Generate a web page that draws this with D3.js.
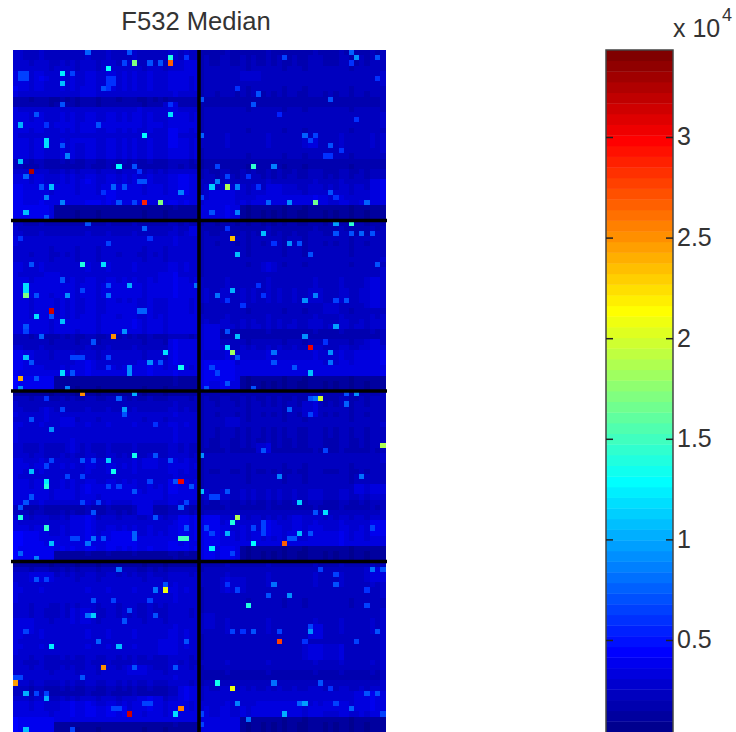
<!DOCTYPE html>
<html>
<head>
<meta charset="utf-8">
<script src="https://cdn.jsdelivr.net/npm/d3@7"></script>
<style>
html, body { margin: 0; padding: 0; background: #fff; overflow: hidden; }
text { font-family: "Liberation Sans", Arial, sans-serif; fill: #333; }
</style>
</head>
<body>
<svg id="chart" width="736" height="732"></svg>
<script>
var nRows = 132, nCols = 72;
var blockRows = [33, 66, 99];
var blockCols = [36];
var cbTicks = [5000, 10000, 15000, 20000, 25000, 30000];
var cMin = 427, cMax = 34324;

// background level of each row, left half and right half of the slide
var leftRows = [2400,2400,2600,2700,3000,3000,3000,3000,2800,1500,1600,2800,3000,3000,3200,3000,2800,3000,3000,3000,3000,2000,1900,2600,3000,3000,3200,3200,3300,3500,1200,1100,1100,
  1900,2300,2400,2800,2800,2700,2600,2700,2900,2900,2800,3000,3200,3200,3200,3000,3000,3000,3100,3200,3200,3200,2000,2200,2400,2700,2700,2800,3000,3400,1200,1200,1100,1100,
  2000,2300,2400,2800,2700,2900,2800,2800,2800,2400,2400,2500,2900,3000,2900,2800,3000,3100,3200,3200,2900,1900,2000,2600,2800,3000,3100,3300,3500,3600,1300,1200,1100,
  2100,2500,2700,2800,2900,2800,2800,2600,2500,2500,2700,2800,2900,2900,2800,2900,2800,2500,2400,2500,2700,2800,2500,2000,1900,2600,3000,3000,3200,3300,1200,1100,1100];
var rightRows = [1900,2000,2000,2200,2300,2300,2300,2200,2100,1800,1800,2200,2300,2300,2300,2200,2400,2400,2400,2300,2200,1700,1600,2000,2100,2400,2600,2700,2900,3000,1100,1000,1000,
  1500,1900,2000,2200,2100,2200,2200,2300,2200,2300,2300,2400,2400,2500,2500,2500,2300,2200,2400,2500,2600,1900,1800,2200,2500,2900,2900,3100,3300,3400,1100,1000,1000,
  1800,2000,2100,2200,2100,2200,2300,2100,2100,2000,2000,1900,2300,2300,2200,2000,2200,2200,2300,2500,2500,2000,1900,2300,2600,2900,3000,3100,3100,3300,1100,1000,1000,
  1900,2300,2400,2400,2400,2300,2300,2200,2200,2300,2300,2400,2400,2400,2300,2300,2300,2300,2300,2400,2300,1900,1800,2300,2500,2800,2800,2900,3000,3000,1100,1000,1000];

// how much each column sits above or below its row level
var colOffsets = [300,200,100,-100,100,200,0,-200,-100,100,-100,100,-200,0,200,100,-200,0,200,100,-100,100,0,200,-100,-200,100,-100,0,-200,200,300,100,200,0,100,
  -300,100,0,-100,100,200,0,-100,100,-200,100,0,-100,200,-100,100,-200,0,100,-100,-200,100,200,100,-100,0,-100,200,100,-200,0,100,-100,200,100,300];

// brighter lumps of the background: row from, row to, col from, col to, level
var patches = [
  [30,32,0,7,3800],[30,32,36,43,3500],[63,65,0,7,3900],[63,65,36,43,3600],[96,98,0,7,3900],[96,98,36,43,3700],[129,131,0,7,3900],[129,131,36,43,3400],
  [5,5,5,6,3500],[7,8,13,15,3400],[7,7,0,2,3400],[10,11,29,31,3000],[15,18,30,31,3500],[17,17,12,13,3400],[24,27,32,34,3600],[29,29,15,16,3900],[25,25,13,15,3500],[26,29,0,1,3800],[11,13,24,25,3200],[27,28,17,19,3600],[14,15,13,15,3400],[2,4,33,35,3300],
  [27,29,38,42,3400],[28,29,53,60,3500],[26,27,49,52,3200],[4,5,44,47,2800],[25,28,69,71,3400],[17,18,56,58,3100],[28,29,47,52,3400],
  [34,35,34,35,3200],[43,46,6,8,3400],[43,46,28,31,3400],[52,53,8,12,3500],[48,50,6,7,3300],[49,50,20,22,3500],[45,47,28,33,3400],[56,60,30,35,3400],[60,62,24,28,3600],[60,62,12,15,3500],[52,53,22,24,3500],[58,61,0,3,3500],
  [53,57,36,39,3300],[60,63,36,42,3800],[58,60,66,71,3400],[60,62,44,48,3500],[60,61,50,56,3400],[44,49,68,70,3100],[41,42,48,50,2900],[49,50,60,62,3000],[56,57,68,70,3000],
  [71,72,9,11,3300],[86,89,24,26,3300],[90,95,11,15,3500],[93,95,0,4,4000],[83,85,30,32,3500],[90,94,32,35,3600],[93,95,19,23,3800],[75,77,10,12,3000],[69,71,6,7,3200],[84,85,14,17,3500],[79,80,25,27,3300],
  [91,93,69,71,3600],[90,95,36,39,3900],[91,93,48,50,3500],[93,95,59,63,3500],[71,72,41,43,2800],[68,70,56,58,2900],[84,85,66,71,3100],[76,77,47,49,2900],[90,92,54,56,3200],
  [101,102,3,7,3400],[110,112,0,3,3300],[123,125,32,35,3500],[126,128,10,14,3600],[125,127,24,28,3600],[108,110,11,14,3200],[114,116,28,31,3300],[119,120,22,25,3300],[127,128,15,21,3600],
  [124,127,66,70,3500],[100,102,68,71,3100],[126,128,47,55,3300],[115,117,56,63,3000],[111,113,57,59,3000],[102,104,40,44,2900],[109,111,36,38,2800],[126,127,60,64,3200]
];

// cells that stand out from the background: row, col, value
var hotCells = [
  [0,14,7800],[0,22,6800],[1,30,14000],[2,30,26500],[2,23,17000],[3,18,13000],[2,26,6800],[2,28,6800],[2,21,6300],[1,33,5800],
  [4,9,12500],[4,11,6300],[6,9,11000],[4,1,6300],[5,1,6300],[4,2,6300],[5,2,6300],[5,18,5800],[6,18,5800],[7,18,5800],[5,19,5800],[6,19,5800],[7,17,6800],[10,9,7300],[10,30,5800],
  [12,30,12000],[12,4,6800],[14,1,10000],[14,16,7300],[14,6,5800],[16,25,13000],[17,6,12000],[18,6,12000],[18,9,6800],[20,10,8500],[21,1,11000],[22,20,13000],[22,23,6800],[23,3,32500],[24,2,7800],[23,24,5800],
  [25,24,7300],[25,25,7300],[26,7,10500],[26,19,7800],[26,21,6800],[26,5,6800],[27,32,8500],[27,17,5800],[28,6,8500],[29,25,28500],[29,28,17000],[29,9,8500],[29,20,6800],[29,23,6300],[31,2,11000],[32,6,7300],
  [0,65,7800],[1,66,9000],[2,65,5800],[1,70,6800],[1,52,6300],[5,70,5800],[7,43,5800],[8,47,7300],[9,36,6800],[9,61,7300],[10,46,6800],[16,36,7800],[16,56,7800],[16,58,6300],[17,57,6300],[18,61,6800],[19,63,5800],[20,60,5800],[20,61,5800],
  [22,46,14500],[22,50,8500],[22,39,6300],[24,41,6300],[25,39,8500],[26,38,11500],[26,41,18500],[26,43,8500],[26,47,5800],[24,45,5800],[28,36,6300],[27,61,6800],[29,49,7800],[29,53,9000],[29,58,16500],[29,68,7800],[31,38,7300],[31,43,8500],[28,62,5800],[13,66,5800],[12,51,5300],
  [33,14,6800],[34,25,7800],[36,1,5800],[36,26,5800],[37,18,6300],[41,13,14000],[41,17,12000],[41,3,6800],[44,9,7300],[45,2,12000],[46,2,12000],[47,2,17000],[47,4,7300],[47,10,9000],[45,18,7300],[45,22,10000],[45,35,8200],[47,18,8200],[46,13,6300],
  [50,7,31500],[51,4,12000],[51,7,6800],[52,9,11000],[50,24,7800],[50,25,7800],[53,2,6800],[54,2,6300],[54,21,9000],[55,19,25000],[55,5,7800],[56,15,6800],[58,29,12000],[59,2,11000],[59,11,6300],[59,12,6300],[59,13,6300],[60,26,9000],[60,28,6800],[60,3,7300],
  [61,32,13500],[61,22,9000],[62,22,9000],[59,18,6300],[61,18,5800],[62,9,12000],[62,11,6800],[63,1,24000],[63,4,6800],[65,1,9000],[65,10,8500],
  [33,62,9500],[33,65,14500],[35,48,11000],[34,41,5800],[36,42,23500],[37,53,9000],[37,55,6800],[37,50,5800],[35,62,6800],[35,65,6800],[35,67,7800],[35,69,6800],[39,43,11000],[39,57,7300],[41,70,7300],[46,42,10000],[47,39,8200],[47,58,8500],[48,56,9000],[48,64,7300],[48,62,6300],[48,41,5800],[49,44,5800],[45,47,5800],[47,48,5800],
  [53,62,9500],[54,41,7300],[55,43,10500],[55,56,9000],[56,60,5800],[57,41,12000],[57,57,30500],[58,42,18000],[58,50,8200],[58,61,9000],[59,43,6800],[60,50,6800],[60,61,8200],[61,54,6800],[61,38,6300],[62,39,6300],[62,57,10500],[64,41,7300],[65,46,6800],[65,37,6800],
  [66,13,25000],[66,23,10000],[67,20,7800],[67,6,5800],[69,21,9500],[70,21,6800],[69,9,6300],[71,3,6800],[73,7,9000],[72,27,5800],[78,23,13500],[78,27,6800],[79,18,11500],[79,30,7300],[79,13,6800],[79,15,6300],[79,7,6300],[81,3,10500],[81,19,13500],[80,6,6300],[82,10,6300],[82,13,6300],
  [83,6,12500],[84,6,14000],[83,32,30500],[83,31,7300],[83,26,6300],[84,34,7300],[84,18,6300],[84,20,6300],[85,23,7300],[86,3,7300],[87,2,7300],[87,13,6300],[87,16,6300],[87,33,6300],[88,1,7300],[88,32,7800],[89,15,6800],[90,1,14000],[90,27,6800],[92,6,14500],[92,33,7300],
  [93,23,7800],[94,23,7800],[94,15,8200],[94,33,15000],[94,32,15000],[95,7,10500],[95,14,8200],[94,17,6800],[94,11,6300],[94,12,6300],[97,1,7800],[98,4,8500],
  [67,59,19500],[67,58,8200],[67,57,6800],[66,64,6800],[66,66,9000],[68,64,7800],[69,53,7800],[70,57,6300],[76,71,18500],[77,48,6800],[77,60,6300],[78,36,9000],[82,51,8500],[82,67,8200],[85,36,10500],[85,41,7300],[87,55,11500],[86,38,6300],[86,39,6300],
  [89,60,12000],[89,58,6800],[90,43,18500],[91,42,14000],[93,41,10000],[93,55,10500],[93,57,7300],[92,69,6300],[95,46,13000],[95,52,26500],[96,38,12500],[94,53,7300],[94,54,7300],[92,37,6300],[93,38,6300],[97,42,6300],[92,46,6300],[91,48,6300],[92,48,6300],[93,48,6300],
  [100,20,8200],[102,4,6800],[102,6,6300],[104,27,8200],[104,29,21000],[103,29,7300],[106,15,7300],[106,26,6300],[106,19,6300],[109,14,8200],[109,15,11500],[109,27,7300],[108,22,6800],[110,21,7300],[112,2,6300],[114,16,7800],[114,33,6800],[115,7,12500],[115,20,10500],
  [119,17,25000],[119,23,7300],[119,31,6800],[122,0,24500],[121,0,6300],[121,1,6300],[121,13,6800],[124,2,10000],[124,4,6300],[125,6,10000],[124,6,6300],[128,22,31500],[127,32,25500],[128,31,12000],[131,2,11000],[131,11,6300],[127,19,6300],[127,20,6300],[126,25,6300],[126,26,6300],
  [100,69,8200],[100,59,6300],[100,71,6800],[101,62,6300],[103,50,8200],[103,62,6800],[104,43,6300],[103,41,5800],[104,68,5800],[105,53,9000],[105,49,7300],[107,45,14000],[107,68,6300],[112,57,9000],[111,57,6300],[112,42,6300],[112,44,5800],[112,46,6800],[112,51,6300],[112,70,7300],
  [114,51,27500],[114,56,5800],[114,66,6300],[122,39,13500],[122,50,8200],[122,59,7300],[123,42,21000],[123,61,5800],[124,68,6800],[124,70,7300],[126,43,8500],[126,55,7800],[126,56,9500],[126,62,6300],[127,65,7800],[128,52,10000],[129,45,8200],[128,36,6300],[130,36,6300],[128,71,6300]
];

var jetStops = [0, 7, 23, 39, 55, 63];
var jetColors = ["rgb(0,0,143)", "rgb(0,0,255)", "rgb(0,255,255)", "rgb(255,255,0)", "rgb(255,0,0)", "rgb(128,0,0)"];
var jet = d3.scaleLinear().domain(jetStops).range(jetColors).interpolate(d3.interpolateRgb);
var color = d3.scaleQuantize().domain([cMin, cMax]).range(d3.range(64).map(function(i) { return jet(i); }));

// build the grid
var grid = [];
d3.range(nRows).forEach(function(r) {
  d3.range(nCols).forEach(function(c) {
    grid.push({ r: r, c: c, v: c < 36 ? leftRows[r] : rightRows[r] });
  });
});
patches.forEach(function(p) {
  grid.forEach(function(d) {
    if (d.r >= p[0] && d.r <= p[1] && d.c >= p[2] && d.c <= p[3]) d.v = p[4];
  });
});
grid.forEach(function(d) {
  d.v += colOffsets[d.c];
});
hotCells.forEach(function(h) {
  grid[h[0] * nCols + h[1]].v = h[2];
});

var svg = d3.select("#chart");
var x = d3.scaleBand().domain(d3.range(nCols)).range([13, 385]);
var y = d3.scaleBand().domain(d3.range(nRows)).range([50, 732]);

svg.append("g")
   .attr("shape-rendering", "crispEdges")
   .style("filter", "blur(0.6px)")
   .selectAll("rect")
   .data(grid)
   .enter()
   .append("rect")
   .attr("x", function(d) { return x(d.c); })
   .attr("y", function(d) { return y(d.r); })
   .attr("width", x.bandwidth() + 0.5)
   .attr("height", y.bandwidth() + 0.5)
   .attr("fill", function(d) { return color(d.v); });

// black separators between blocks
svg.selectAll("line.hsep")
   .data(blockRows)
   .enter()
   .append("line")
   .attr("class", "hsep")
   .attr("x1", 11)
   .attr("x2", 387)
   .attr("y1", function(d) { return y(d); })
   .attr("y2", function(d) { return y(d); })
   .attr("stroke", "#000")
   .attr("stroke-width", 3.6);
svg.selectAll("line.vsep")
   .data(blockCols)
   .enter()
   .append("line")
   .attr("class", "vsep")
   .attr("x1", function(d) { return x(d); })
   .attr("x2", function(d) { return x(d); })
   .attr("y1", 50)
   .attr("y2", 732)
   .attr("stroke", "#000")
   .attr("stroke-width", 3.6);

svg.append("text")
   .attr("x", 196)
   .attr("y", 30)
   .attr("text-anchor", "middle")
   .attr("font-size", "25.6px")
   .text("F532 Median");

// colorbar
var cbX = 606, cbW = 67;
var cb = d3.scaleLinear().domain([cMin, cMax]).range([732, 50]);
svg.append("g")
   .style("filter", "blur(0.5px)")
   .selectAll("rect.cb")
   .data(color.range())
   .enter()
   .append("rect")
   .attr("class", "cb")
   .attr("x", cbX)
   .attr("width", cbW)
   .attr("y", function(d) { return cb(color.invertExtent(d)[1]); })
   .attr("height", function(d) { return cb(color.invertExtent(d)[0]) - cb(color.invertExtent(d)[1]) + 0.4; })
   .attr("fill", function(d) { return d; });
svg.append("rect")
   .attr("x", cbX)
   .attr("y", 50)
   .attr("width", cbW)
   .attr("height", 690)
   .attr("fill", "none")
   .attr("stroke", "#444")
   .attr("stroke-width", 1.5);

var axisR = d3.axisRight(cb).tickValues(cbTicks).tickSizeInner(-7).tickSizeOuter(0).tickPadding(11)
  .tickFormat(function(d) { return d / 10000; });
var gR = svg.append("g").attr("transform", "translate(" + (cbX + cbW) + ",0)").call(axisR);
gR.select(".domain").remove();
gR.selectAll("text").attr("font-size", "25px").attr("font-family", "Liberation Sans").attr("fill", "#333").attr("x", 4);
gR.selectAll("line").attr("stroke", "#222").attr("stroke-width", 1.5);

var axisL = d3.axisLeft(cb).tickValues(cbTicks).tickSizeInner(-7).tickSizeOuter(0).tickFormat("");
var gL = svg.append("g").attr("transform", "translate(" + cbX + ",0)").call(axisL);
gL.select(".domain").remove();
gL.selectAll("line").attr("stroke", "#222").attr("stroke-width", 1.5);

svg.append("text").attr("x", 673).attr("y", 37).attr("font-size", "25px").text("x 10");
svg.append("text").attr("x", 722).attr("y", 21).attr("font-size", "18px").text("4");
</script>
</body>
</html>
